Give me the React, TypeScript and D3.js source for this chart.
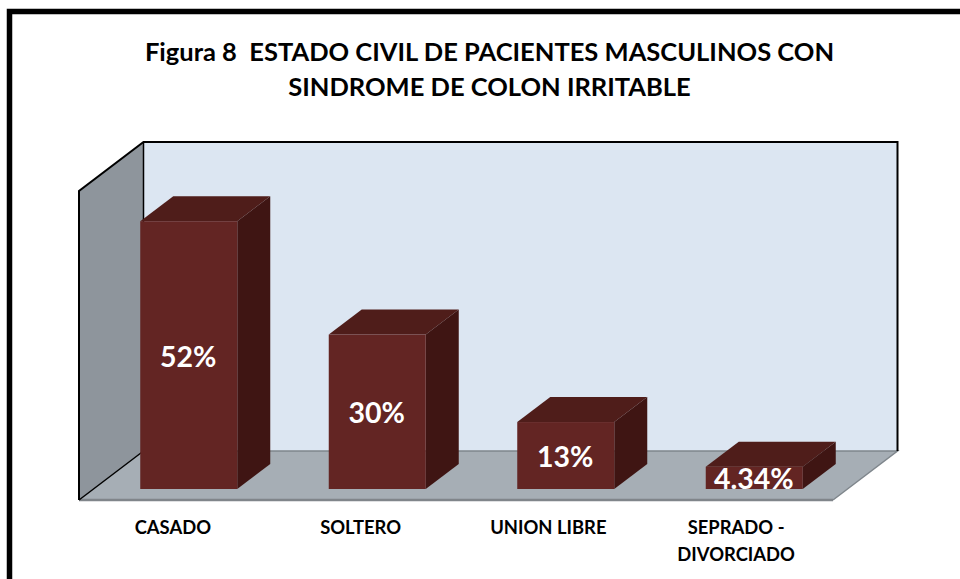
import React from "react";
import * as d3 from "d3";

const categories = ["CASADO", "SOLTERO", "UNION LIBRE", "SEPRADO -|DIVORCIADO"];
const values = [52, 30, 13, 4.34];
const valueLabels = ["52%", "30%", "13%", "4.34%"];
const titleLines = ["Figura 8  ESTADO CIVIL DE PACIENTES MASCULINOS CON", "SINDROME DE COLON IRRITABLE"];

const font = "Lato, 'Open Sans', sans-serif";
const W = 960, H = 579;
const x0 = 79, x1 = 833, yFloor = 500, yTop = 191;
const wallDx = 64.5, wallDy = -49;
const barDx = 33, barDy = -25;
const barInsetY = 11;

export default function App() {
  const x = d3.scaleBand<string>().domain(categories).range([x0, x1]);
  const xLabel = d3.scaleBand<string>().domain(categories).range([x0, x1 - 3]);
  const y = d3.scaleLinear().domain([0, 60]).range([yFloor, yTop]);
  const pts = (p: number[][]) => p.map((q) => q.join(",")).join(" ");
  const barW = 97;
  const bx = (c: string) => x(c)! + x.bandwidth() / 2 + 15.5 - barW / 2;
  return (
    <svg width={W} height={H} style={{ position: "fixed", left: 0, top: 0, display: "block", background: "#fff" }}>
      <path d={`M9.5 579V11.5H960`} fill="none" stroke="#000" strokeWidth={5.5} />
      {titleLines.map((t, i) => (
        <text key={i} x={489.5} y={61 + i * 34.5} textAnchor="middle" fontFamily={font} fontWeight={700} fontSize={25.5} fill="#000" style={{ whiteSpace: "pre" }}>{t}</text>
      ))}
      <rect x={x0 + wallDx} y={yTop + wallDy} width={x1 - x0} height={yFloor - yTop} fill="#dce6f2" />
      <polygon points={pts([[x0, yFloor], [x1, yFloor], [x1 + wallDx, yFloor + wallDy], [x0 + wallDx, yFloor + wallDy]])} fill="#a6aeb5" />
      <polygon points={pts([[x0, yTop], [x0 + wallDx, yTop + wallDy], [x0 + wallDx, yFloor + wallDy], [x0, yFloor]])} fill="#8e959c" />
      <path d={`M${x0 + wallDx} ${yFloor + wallDy}H${x1 + wallDx}L${x1} ${yFloor}`} fill="none" stroke="#7f868c" strokeWidth={1.5} />
      <path d={`M${x0} ${yFloor}H${x1}`} fill="none" stroke="#80858a" strokeWidth={2.5} />
      <path d={`M${x0} ${yFloor}V${yTop}L${x0 + wallDx} ${yTop + wallDy}H${x1 + wallDx}V${yFloor + wallDy}`} fill="none" stroke="#000" strokeWidth={2} />
      <path d={`M${x0 + wallDx} ${yTop + wallDy}V${yFloor + wallDy}L${x0} ${yFloor}`} fill="none" stroke="#000" strokeWidth={1.5} />
      {categories.map((c, i) => {
        const l = bx(c), r = l + barW;
        const b = y(0) - barInsetY, t = y(values[i]) - barInsetY;
        return (
          <g key={c}>
            <polygon points={pts([[l, t], [l + barDx, t + barDy], [r + barDx, t + barDy], [r, t]])} fill="#4f1d1a" />
            <polygon points={pts([[r, t], [r + barDx, t + barDy], [r + barDx, b + barDy], [r, b]])} fill="#3f1513" />
            <rect x={l} y={t} width={barW} height={b - t} fill="#632523" />
            <text x={(l + r) / 2 - 0.5} y={i === 3 ? b - 0.5 : (t + b) / 2 + 11.5} textAnchor="middle" fontFamily={font} fontWeight={700} fontSize={28.5} fill="#fff">{valueLabels[i]}</text>
          </g>
        );
      })}
      {categories.map((c) => {
        const cx = xLabel(c)! + xLabel.bandwidth() / 2;
        return c.split("|").map((s, j) => (
          <text key={s} x={cx} y={534 + j * 27} textAnchor="middle" fontFamily={font} fontWeight={700} fontSize={18.4} fill="#000">{s}</text>
        ));
      })}
    </svg>
  );
}
